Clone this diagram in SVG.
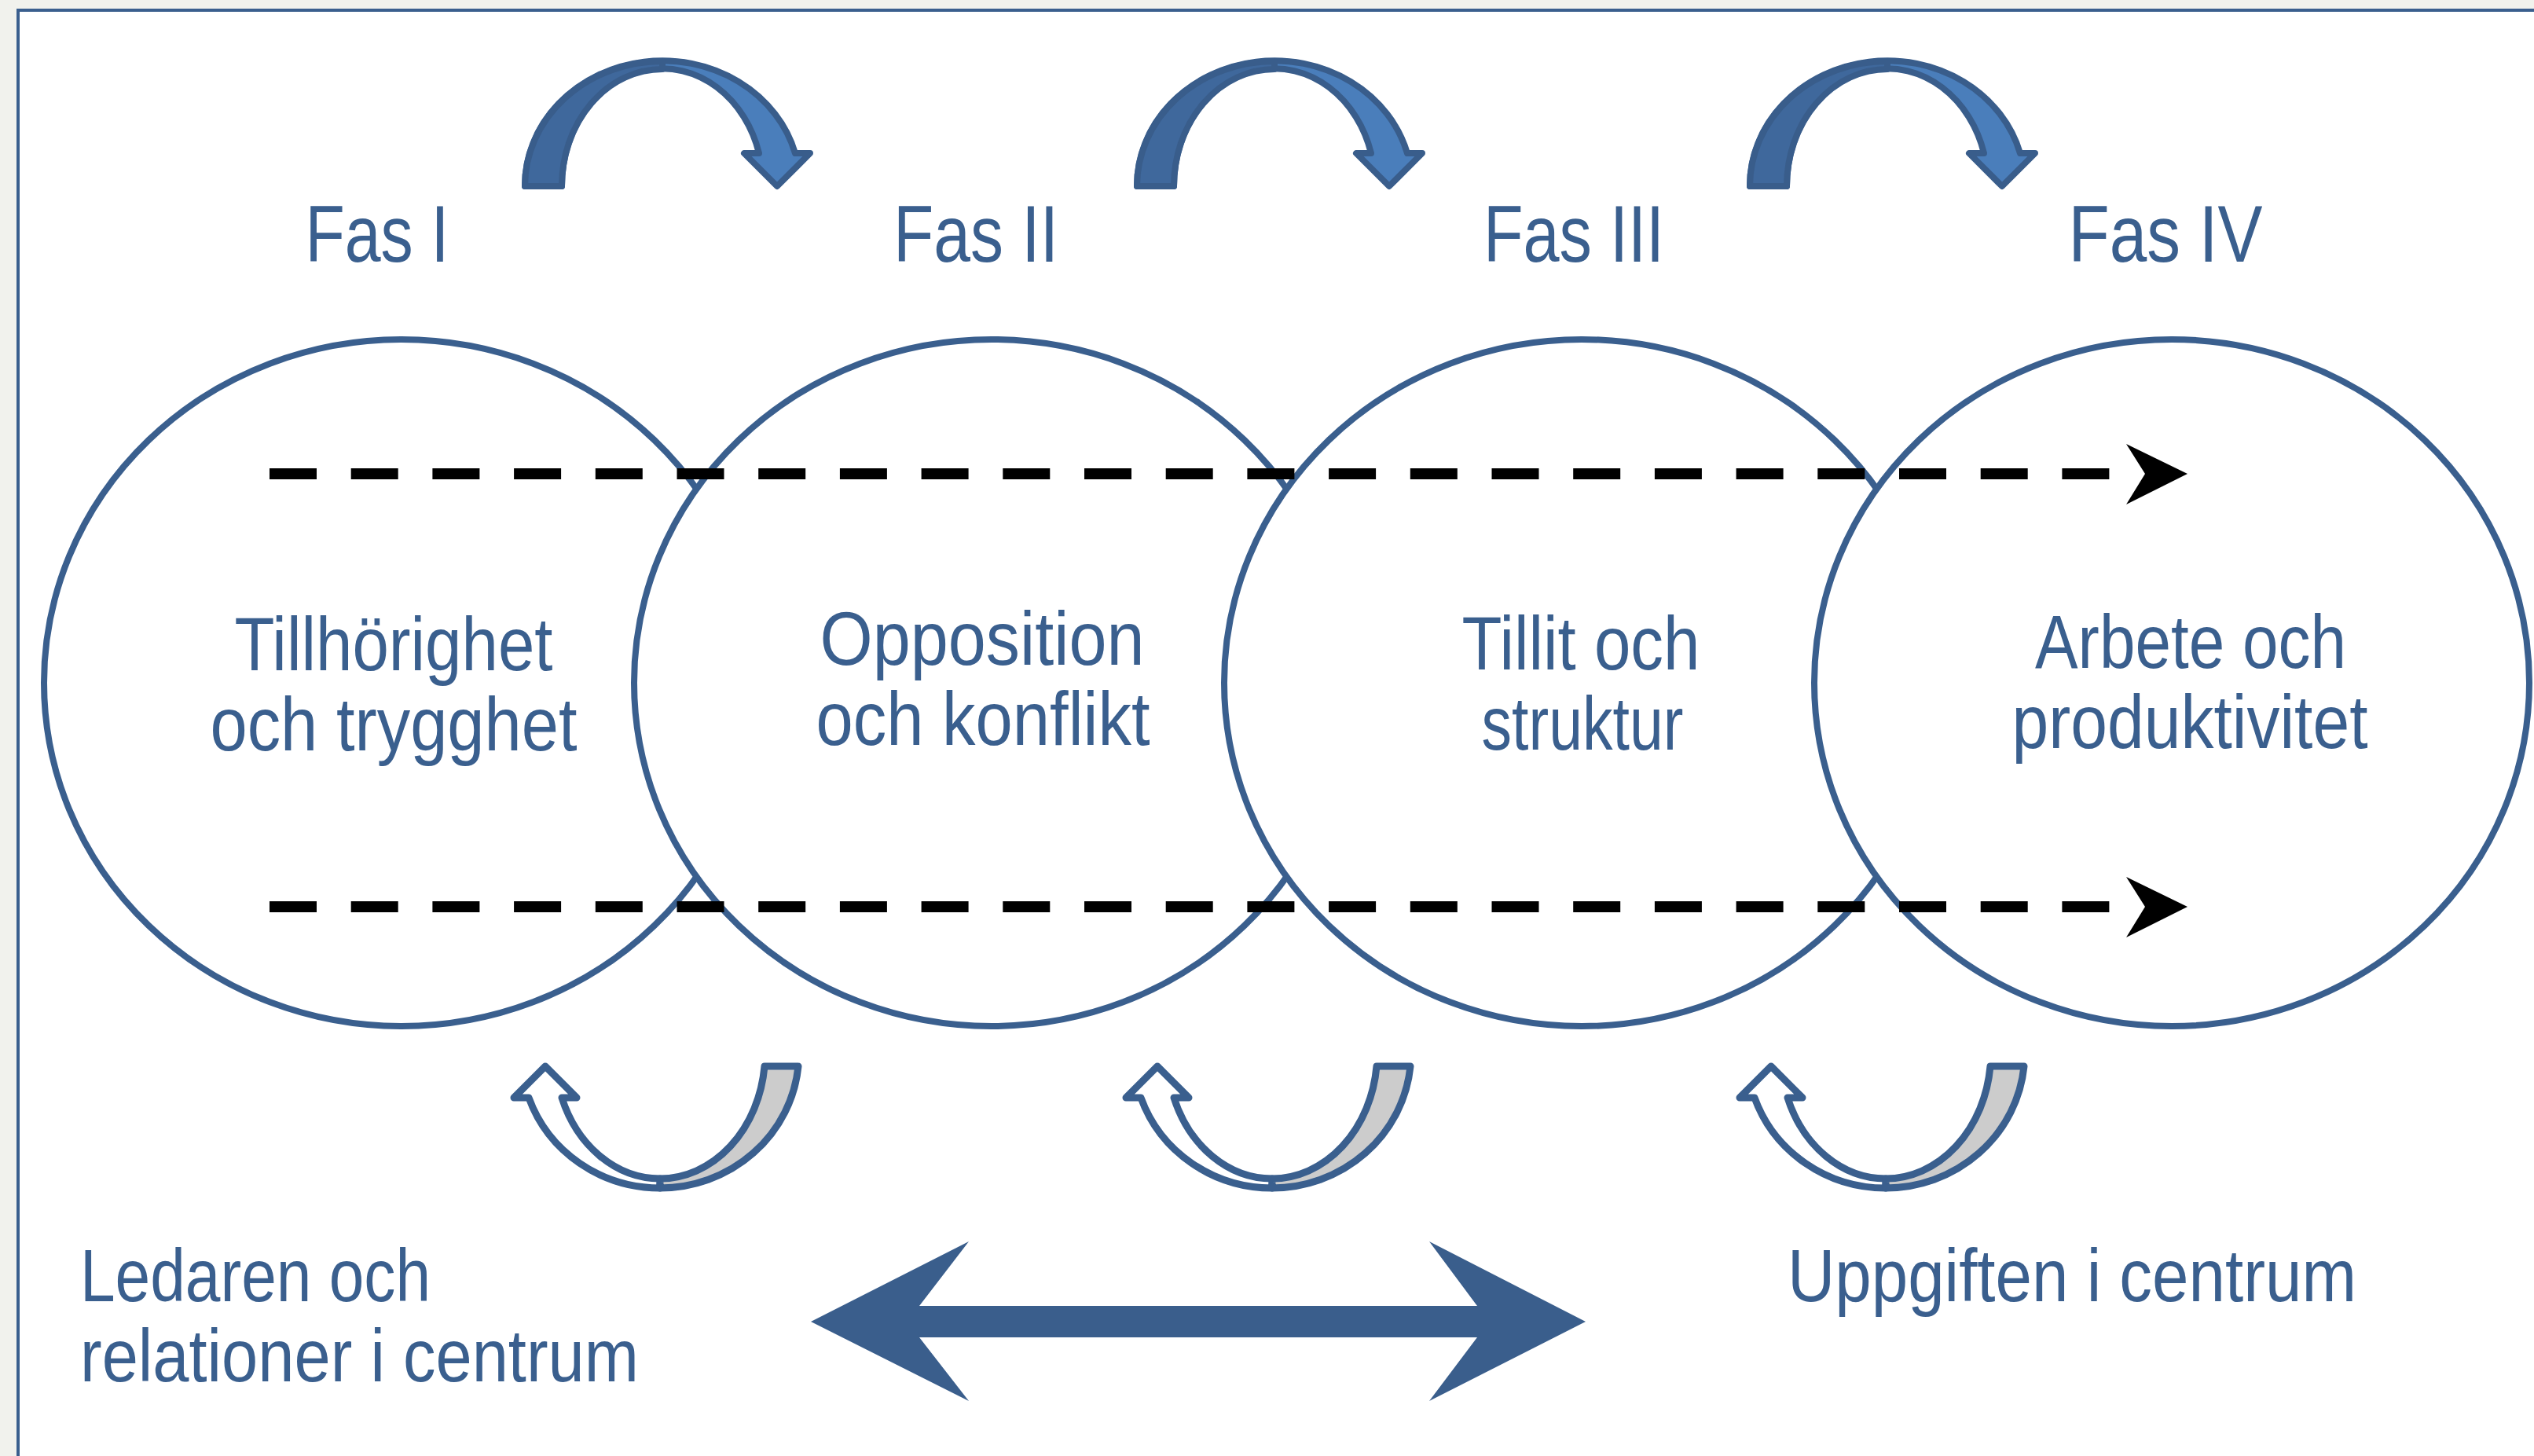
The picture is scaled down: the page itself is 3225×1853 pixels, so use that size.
<svg xmlns="http://www.w3.org/2000/svg" xmlns:xlink="http://www.w3.org/1999/xlink" width="3225" height="1853" viewBox="0 0 3225 1853">
<style>
.lbl{font-family:"Liberation Sans",Arial,sans-serif;fill:#3a5f8e;}
.fas{font-size:102px;}
.ctx{font-size:96px;}
.side{font-size:95px;}
.circ{fill:#ffffff;stroke:#3a5f8e;stroke-width:8;}
.dash{stroke:#000;stroke-width:14;stroke-dasharray:60 43.7;fill:none;}
.ahead{fill:#000;}
.tdark{fill:#3f689c;stroke:#395d8b;stroke-width:8;stroke-linejoin:round;}
.tlight{fill:#4a7ebb;stroke:#395d8b;stroke-width:8;stroke-linejoin:round;}
.bwhite{fill:#ffffff;stroke:#3a5f8e;stroke-width:9;stroke-linejoin:round;}
.bgray{fill:#cccccc;stroke:#3a5f8e;stroke-width:9;stroke-linejoin:round;}
</style>
<defs>
<g id="topArrow">
<path class="tlight" d="M668,237 A175,159 0 0 1 1012,195 L1031,195 L989,237 L947,195 L966,195 A128,149 0 0 0 715,237 Z"/>
<path class="tdark" d="M668,237 A175,159 0 0 1 843,78 L843,88 A128,149 0 0 0 715,237 Z"/>
</g>
<g id="botArrow">
<path class="bwhite" d="M840,1512 A177,172 0 0 1 673,1397 L654,1397 L694,1357 L734,1397 L715,1397 A134,160 0 0 0 840,1500 Z"/>
<path class="bgray" d="M973,1357 L1016,1357 A177,172 0 0 1 840,1512 L840,1500 A134,160 0 0 0 973,1357 Z"/>
</g>
</defs>
<rect x="0" y="0" width="3225" height="1853" fill="#f1f2ed"/>
<rect x="23" y="13" width="3300" height="1900" fill="#ffffff" stroke="#3a5f8e" stroke-width="4"/>

<g id="fas-labels">
<text class="lbl fas" x="480" y="333" text-anchor="middle" textLength="183" lengthAdjust="spacingAndGlyphs">Fas I</text>
<text class="lbl fas" x="1242" y="333" text-anchor="middle" textLength="210" lengthAdjust="spacingAndGlyphs">Fas II</text>
<text class="lbl fas" x="2003" y="333" text-anchor="middle" textLength="230" lengthAdjust="spacingAndGlyphs">Fas III</text>
<text class="lbl fas" x="2756" y="333" text-anchor="middle" textLength="247" lengthAdjust="spacingAndGlyphs">Fas IV</text>
</g>

<g id="phase1">
<ellipse class="circ" cx="511" cy="869" rx="455" ry="437"/>
<text class="lbl ctx" x="501" y="853" text-anchor="middle" textLength="405" lengthAdjust="spacingAndGlyphs">Tillhörighet</text>
<text class="lbl ctx" x="501" y="955" text-anchor="middle" textLength="467" lengthAdjust="spacingAndGlyphs">och trygghet</text>
</g>
<g id="phase2">
<ellipse class="circ" cx="1262" cy="869" rx="455" ry="437"/>
<text class="lbl ctx" x="1250" y="846" text-anchor="middle" textLength="413" lengthAdjust="spacingAndGlyphs">Opposition</text>
<text class="lbl ctx" x="1251" y="948" text-anchor="middle" textLength="425" lengthAdjust="spacingAndGlyphs">och konflikt</text>
</g>
<g id="phase3">
<ellipse class="circ" cx="2013" cy="869" rx="455" ry="437"/>
<text class="lbl ctx" x="2012" y="852" text-anchor="middle" textLength="303" lengthAdjust="spacingAndGlyphs">Tillit och</text>
<text class="lbl ctx" x="2014" y="954" text-anchor="middle" textLength="257" lengthAdjust="spacingAndGlyphs">struktur</text>
</g>
<g id="phase4">
<ellipse class="circ" cx="2764" cy="869" rx="455" ry="437"/>
<text class="lbl ctx" x="2788" y="850" text-anchor="middle" textLength="396" lengthAdjust="spacingAndGlyphs">Arbete och</text>
<text class="lbl ctx" x="2787" y="952" text-anchor="middle" textLength="453" lengthAdjust="spacingAndGlyphs">produktivitet</text>
</g>

<g id="connectors">
<line class="dash" x1="343" y1="603" x2="2685" y2="603"/>
<polygon class="ahead" points="2784,603 2706,565 2730,603 2706,642"/>
<line class="dash" x1="343" y1="1154" x2="2685" y2="1154"/>
<polygon class="ahead" points="2784,1154 2706,1116 2730,1154 2706,1193"/>
<use xlink:href="#topArrow"/>
<use xlink:href="#topArrow" transform="translate(779,0)"/>
<use xlink:href="#topArrow" transform="translate(1559,0)"/>
<use xlink:href="#botArrow"/>
<use xlink:href="#botArrow" transform="translate(779,0)"/>
<use xlink:href="#botArrow" transform="translate(1560,0)"/>
<polygon id="double-arrow" fill="#3a5e8c" points="1032,1682 1233,1580 1170,1662 1880,1662 1819,1580 2018,1682 1819,1783 1880,1702 1170,1702 1233,1783"/>
</g>

<g id="side-labels">
<text class="lbl side" x="102" y="1656" textLength="446" lengthAdjust="spacingAndGlyphs">Ledaren och</text>
<text class="lbl side" x="102" y="1758" textLength="711" lengthAdjust="spacingAndGlyphs">relationer i centrum</text>
<text class="lbl side" x="2275" y="1656" textLength="724" lengthAdjust="spacingAndGlyphs">Uppgiften i centrum</text>
</g>
</svg>
